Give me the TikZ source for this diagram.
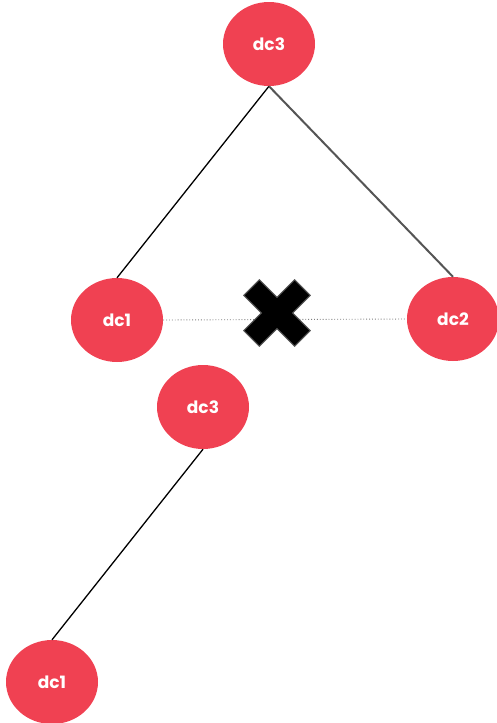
\documentclass[tikz,border=0pt]{standalone}
\usepackage{fontspec}
\setmainfont{Poppins}
\usetikzlibrary{shapes.geometric}

\definecolor{dcred}{RGB}{240,65,82}
\definecolor{linkgray}{RGB}{85,85,85}

\tikzset{
  dc/.style={ellipse,fill=dcred,text=white,minimum width=92pt,minimum height=84pt,inner sep=0pt,font=\fontsize{17}{17}\selectfont\bfseries},
  link/.style={line width=1.3pt,black},
  cross/.style={fill=black,draw=linkgray,line width=1pt}
}

\begin{document}
\begin{tikzpicture}[x=1pt,y=-1pt]
\useasboundingbox (0,0) rectangle (497,723);
\node[dc] (top3) at (269,44) {dc3};
\node[dc] (mid1) at (117,320) {dc1};
\node[dc] (mid2) at (453,319) {dc2};
\node[dc] (low3) at (203,407) {dc3};
\node[dc] (low1) at (52,682) {dc1};
\draw[link] (top3.south) -- (mid1.north);
\draw[link,linkgray,line width=2pt] (top3.south) -- (mid2.north);
\draw[gray,dotted,line width=0.9pt] (mid1.east) -- (mid2.west);
\draw[link] (low3.south) -- (low1.north);
% broken link
\begin{scope}[shift={(277,313)},rotate=45]
\draw[cross] (11,11)--(36,11)--(36,-11)--(11,-11)--(11,-36)--(-11,-36)--(-11,-11)--(-36,-11)--(-36,11)--(-11,11)--(-11,36)--(11,36)--cycle;
\end{scope}
\end{tikzpicture}
\end{document}
